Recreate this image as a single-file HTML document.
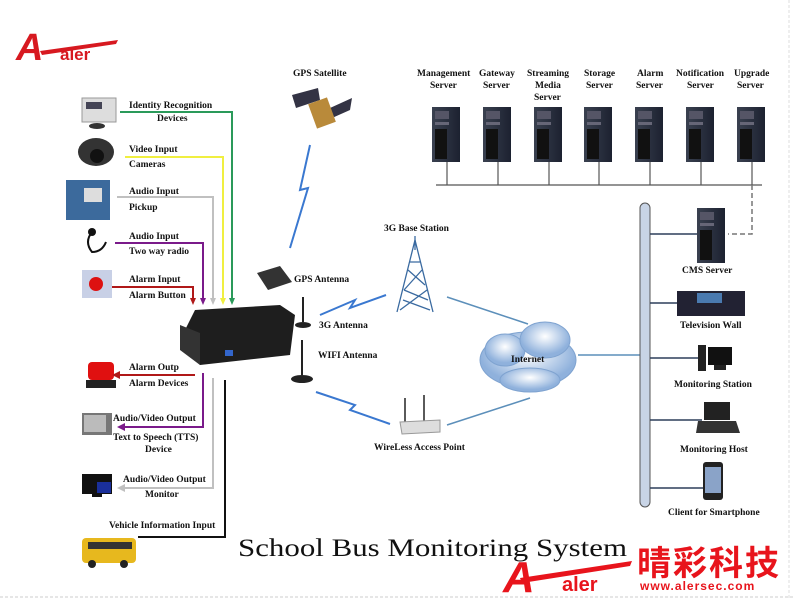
<!DOCTYPE html>
<html><head><meta charset="utf-8"><style>
html,body{margin:0;padding:0;background:#fff;width:793px;height:600px;overflow:hidden}
svg text{font-family:"Liberation Serif",serif;font-weight:bold;font-size:9.5px;fill:#111}
</style></head><body>
<svg width="793" height="600" viewBox="0 0 793 600" xmlns="http://www.w3.org/2000/svg">
<defs>
<linearGradient id="srv" x1="0" x2="1"><stop offset="0" stop-color="#3a4150"/><stop offset="1" stop-color="#1c2130"/></linearGradient>
<radialGradient id="cl" cx="0.5" cy="0.4"><stop offset="0" stop-color="#fff"/><stop offset="1" stop-color="#8fb1dc"/></radialGradient>
<g id="server"><rect x="0" y="0" width="28" height="55" fill="url(#srv)"/><rect x="3" y="4" width="14" height="8" fill="#556"/><rect x="3" y="15" width="14" height="3" fill="#667"/><rect x="3" y="22" width="12" height="30" fill="#111"/></g>
</defs>
<line x1="0" y1="597" x2="793" y2="597" stroke="#ccc" stroke-dasharray="3,2"/>
<line x1="789" y1="0" x2="789" y2="600" stroke="#ddd" stroke-dasharray="3,2"/>
<!-- top-left logo -->
<text x="16" y="60" style="font-family:'Liberation Sans',sans-serif;font-style:italic;font-weight:bold;font-size:38px;fill:#d71920">A</text>
<path d="M40 51 L118 40 L116 44 L42 55Z" fill="#d71920"/>
<text x="60" y="60" style="font-family:'Liberation Sans',sans-serif;font-weight:bold;font-size:17px;fill:#d71920">aler</text>
<!-- left devices -->
<rect x="82" y="98" width="34" height="24" fill="#ddd" stroke="#999"/><rect x="86" y="102" width="16" height="7" fill="#445"/><ellipse cx="97" cy="126" rx="8" ry="3" fill="#333"/>
<ellipse cx="96" cy="152" rx="18" ry="14" fill="#333"/><circle cx="97" cy="156" r="7" fill="#111"/>
<rect x="66" y="180" width="44" height="40" fill="#3c6a9c"/><rect x="84" y="188" width="18" height="14" fill="#ddd"/>
<path d="M92 232 q-8 10 0 20 q10 0 14 -10" stroke="#111" stroke-width="2" fill="none"/><circle cx="92" cy="232" r="4" fill="#111"/>
<rect x="82" y="270" width="30" height="28" fill="#c8d0e6"/><circle cx="96" cy="284" r="7" fill="#d11"/>
<rect x="88" y="362" width="26" height="18" rx="4" fill="#e01010"/><rect x="86" y="380" width="30" height="8" fill="#222"/>
<rect x="82" y="413" width="30" height="22" fill="#777"/><rect x="84" y="415" width="22" height="17" fill="#bbb"/>
<rect x="82" y="474" width="30" height="20" fill="#111"/><rect x="97" y="482" width="14" height="11" fill="#1a2f9a"/><rect x="92" y="494" width="10" height="3" fill="#111"/>
<rect x="82" y="538" width="54" height="25" rx="4" fill="#e7b81e"/><rect x="88" y="542" width="44" height="7" fill="#333"/><circle cx="92" cy="564" r="4" fill="#222"/><circle cx="124" cy="564" r="4" fill="#222"/>
<g fill="none" stroke-width="2">
<polyline points="120,112 232,112 232,300" stroke="#2a9a5a"/>
<polyline points="125,157 223,157 223,300" stroke="#f0ef40"/>
<polyline points="117,197 213,197 213,300" stroke="#c0c0c0"/>
<polyline points="115,243 203,243 203,300" stroke="#7a1a8a"/>
<polyline points="112,287 193,287 193,300" stroke="#b01818"/>
</g>
<polygon points="229,298 235,298 232,305" fill="#2a9a5a"/>
<polygon points="220,298 226,298 223,305" fill="#f0ef40"/>
<polygon points="210,298 216,298 213,305" fill="#c0c0c0"/>
<polygon points="200,298 206,298 203,305" fill="#7a1a8a"/>
<polygon points="190,298 196,298 193,305" fill="#b01818"/>
<!-- DVR -->
<polygon points="195,310 280,305 295,315 290,355 200,365 180,340" fill="#1e1e1e"/>
<polygon points="180,325 200,333 200,365 180,350" fill="#333"/>
<rect x="225" y="350" width="8" height="6" fill="#36c"/>
<g fill="none" stroke-width="2">
<polyline points="195,375 115,375" stroke="#b01818"/>
<polyline points="203,373 203,427 120,427" stroke="#7a1a8a"/>
<polyline points="213,378 213,488 120,488" stroke="#c0c0c0"/>
<polyline points="225,380 225,537 138,537" stroke="#111"/>
</g>
<polygon points="112,375 120,371 120,379" fill="#b01818"/>
<polygon points="117,427 125,423 125,431" fill="#7a1a8a"/>
<polygon points="117,488 125,484 125,492" fill="#c0c0c0"/>
<text x="129" y="108">Identity Recognition</text><text x="157" y="121">Devices</text>
<text x="129" y="152">Video Input</text><text x="129" y="167">Cameras</text>
<text x="129" y="194">Audio Input</text><text x="129" y="210">Pickup</text>
<text x="129" y="239">Audio Input</text><text x="129" y="254">Two way radio</text>
<text x="129" y="282">Alarm Input</text><text x="129" y="298">Alarm Button</text>
<text x="129" y="370">Alarm Outp</text><text x="129" y="386">Alarm Devices</text>
<text x="113" y="421">Audio/Video Output</text><text x="113" y="440">Text to Speech (TTS)</text><text x="145" y="452">Device</text>
<text x="123" y="482">Audio/Video Output</text><text x="145" y="497">Monitor</text>
<text x="109" y="528">Vehicle Information Input</text>
<!-- title -->
<text x="238" y="556" textLength="389" lengthAdjust="spacingAndGlyphs" style="font-family:'Liberation Serif',serif;font-weight:normal;font-size:25px">School Bus Monitoring System</text>
<!-- bottom logo -->
<text x="503" y="592" style="font-family:'Liberation Sans',sans-serif;font-style:italic;font-weight:bold;font-size:44px;fill:#e8141c">A</text>
<path d="M520 578 L632 561 L630 566 L522 583Z" fill="#e8141c"/>
<text x="562" y="591" style="font-family:'Liberation Sans',sans-serif;font-weight:bold;font-size:20px;fill:#e8141c">aler</text>
<text x="637" y="575" style="font-family:'Liberation Sans','Noto Sans CJK SC',sans-serif;font-weight:bold;font-size:34px;fill:#e8141c;letter-spacing:2px">晴彩科技</text>
<text x="640" y="590" style="font-family:'Liberation Sans',sans-serif;font-weight:bold;font-size:12px;fill:#e8141c;letter-spacing:1px">www.alersec.com</text>
<!-- GPS satellite -->
<text x="293" y="76">GPS Satellite</text>
<polygon points="292,95 318,88 320,100 296,108" fill="#334"/>
<polygon points="330,108 352,98 350,110 332,118" fill="#334"/>
<rect x="312" y="100" width="20" height="26" fill="#b98a3a" transform="rotate(-20 322 113)"/>
<polyline points="310,145 300,190 308,188 290,248" fill="none" stroke="#3a78d0" stroke-width="2"/>
<polygon points="257,273 280,266 292,282 268,290" fill="#333"/>
<text x="294" y="282">GPS Antenna</text>
<line x1="303" y1="297" x2="303" y2="322" stroke="#222" stroke-width="2"/><ellipse cx="303" cy="325" rx="8" ry="3" fill="#222"/>
<text x="319" y="328">3G Antenna</text>
<line x1="302" y1="340" x2="302" y2="375" stroke="#222" stroke-width="2"/><ellipse cx="302" cy="379" rx="11" ry="4" fill="#222"/>
<text x="318" y="358">WIFI Antenna</text>
<polyline points="320,315 355,300 350,308 386,295" fill="none" stroke="#3a78d0" stroke-width="2"/>
<polyline points="316,392 355,405 350,410 390,424" fill="none" stroke="#3a78d0" stroke-width="2"/>
<!-- tower -->
<text x="384" y="231">3G Base Station</text>
<g stroke="#3a6aa0" stroke-width="1.3" fill="none"><polyline points="397,312 415,240 433,312"/><line x1="415" y1="236" x2="415" y2="250"/><path d="M410 262 L421 262 M408 270 L425 285 M422 270 L404 290 M404 290 L428 300 M427 290 L400 310 M403 300 L430 310"/></g>
<line x1="447" y1="297" x2="528" y2="324" stroke="#5c8fba" stroke-width="1.5"/>
<line x1="447" y1="425" x2="530" y2="398" stroke="#5c8fba" stroke-width="1.5"/>
<g fill="url(#cl)" stroke="#7fa3d0"><ellipse cx="528" cy="360" rx="48" ry="28"/><ellipse cx="505" cy="350" rx="20" ry="16"/><ellipse cx="545" cy="340" rx="25" ry="18"/><ellipse cx="530" cy="380" rx="30" ry="12"/></g>
<text x="511" y="362">Internet</text>
<line x1="578" y1="355" x2="640" y2="355" stroke="#5c8fba" stroke-width="1.5"/>
<line x1="405" y1="398" x2="405" y2="425" stroke="#222" stroke-width="1.5"/><line x1="424" y1="395" x2="424" y2="425" stroke="#222" stroke-width="1.5"/>
<polygon points="400,422 440,420 440,432 402,434" fill="#ddd" stroke="#999"/>
<text x="374" y="450">WireLess Access Point</text>
<g font-size="9">
<text x="417" y="76">Management</text><text x="430" y="88">Server</text>
<text x="479" y="76">Gateway</text><text x="483" y="88">Server</text>
<text x="527" y="76">Streaming</text><text x="535" y="88">Media</text><text x="534" y="100">Server</text>
<text x="584" y="76">Storage</text><text x="586" y="88">Server</text>
<text x="637" y="76">Alarm</text><text x="636" y="88">Server</text>
<text x="676" y="76">Notification</text><text x="687" y="88">Server</text>
<text x="734" y="76">Upgrade</text><text x="737" y="88">Server</text>
</g>
<g stroke="#555" stroke-width="1.2">
<line x1="436" y1="185" x2="762" y2="185"/>
<line x1="447" y1="162" x2="447" y2="185"/><line x1="498" y1="162" x2="498" y2="185"/><line x1="549" y1="162" x2="549" y2="185"/><line x1="599" y1="162" x2="599" y2="185"/><line x1="650" y1="162" x2="650" y2="185"/><line x1="701" y1="162" x2="701" y2="185"/><line x1="752" y1="162" x2="752" y2="185"/>
</g>
<use href="#server" x="432" y="107"/><use href="#server" x="483" y="107"/><use href="#server" x="534" y="107"/><use href="#server" x="584" y="107"/><use href="#server" x="635" y="107"/><use href="#server" x="686" y="107"/><use href="#server" x="737" y="107"/>
<polyline points="752,185 752,234 728,234" fill="none" stroke="#777" stroke-width="1.5" stroke-dasharray="5,3"/>
<rect x="640" y="203" width="10" height="304" rx="5" fill="#c8d4e6" stroke="#555"/>
<g stroke="#2d3e5a" stroke-width="1.5">
<line x1="650" y1="234" x2="697" y2="234"/><line x1="650" y1="303" x2="680" y2="303"/><line x1="650" y1="358" x2="698" y2="358"/><line x1="650" y1="420" x2="702" y2="420"/><line x1="650" y1="488" x2="705" y2="488"/>
</g>
<use href="#server" x="697" y="208"/>
<text x="682" y="273">CMS Server</text>
<rect x="677" y="291" width="68" height="25" fill="#223"/><rect x="697" y="293" width="25" height="10" fill="#4a7ab0"/>
<text x="680" y="328">Television Wall</text>
<rect x="698" y="345" width="8" height="26" fill="#222"/><rect x="708" y="347" width="24" height="18" fill="#111"/><rect x="714" y="365" width="12" height="5" fill="#222"/>
<text x="674" y="387">Monitoring Station</text>
<rect x="704" y="402" width="26" height="18" fill="#222"/><polygon points="698,421 736,421 740,433 696,433" fill="#333"/>
<text x="680" y="452">Monitoring Host</text>
<rect x="703" y="462" width="20" height="38" rx="3" fill="#222"/><rect x="705" y="467" width="16" height="26" fill="#8aa3c8"/>
<text x="668" y="515">Client for Smartphone</text>
</svg>
</body></html>
